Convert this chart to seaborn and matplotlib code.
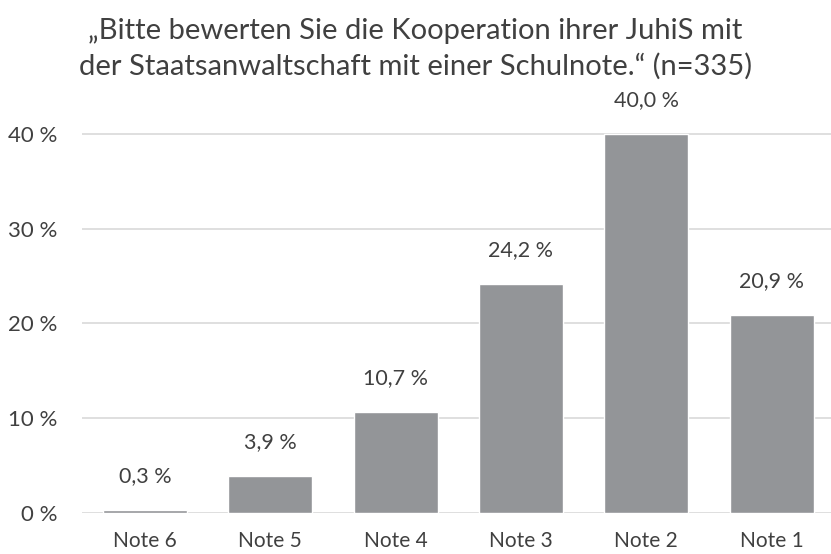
import matplotlib
matplotlib.use("Agg")
import matplotlib.pyplot as plt
import seaborn as sns
import pandas as pd

# Daten aus der Grafik
noten = ["Note 6", "Note 5", "Note 4", "Note 3", "Note 2", "Note 1"]
anteile = [0.3, 3.9, 10.7, 24.2, 40.0, 20.9]
y_ticks = [0, 10, 20, 30, 40]

df = pd.DataFrame({"note": noten, "anteil": anteile})

sns.set_style("white")
plt.rcParams["font.family"] = ["Lato", "DejaVu Sans"]
text_col = "#404040"

fig = plt.figure(figsize=(8.31, 5.54), dpi=100)
ax = fig.add_axes([0.099, 0.074, 0.905, 0.77])

sns.barplot(data=df, x="note", y="anteil", color="#939598", width=0.67,
            saturation=1, ax=ax, zorder=3)

ax.set_ylim(0, 45)
ax.set_yticks(y_ticks)
ax.set_yticklabels([f"{t} %" for t in y_ticks], fontsize=16, color=text_col)
ax.tick_params(axis="x", labelsize=15, colors=text_col, length=0, pad=13)
ax.tick_params(axis="y", length=0, pad=18)
ax.yaxis.grid(True, color="#d9d9d9", linewidth=1.2, zorder=0)
ax.set_xlabel("")
ax.set_ylabel("")
for s in ax.spines.values():
    s.set_visible(False)

# Werte über den Balken
for i, v in enumerate(anteile):
    ax.text(i, v + 2.5, f"{v:.1f} %".replace(".", ","), ha="center", va="bottom",
            fontsize=15.5, color=text_col)

fig.text(0.5, 0.912, "„Bitte bewerten Sie die Kooperation ihrer JuhiS mit\n"
         "der Staatsanwaltschaft mit einer Schulnote.“ (n=335)",
         ha="center", va="center", fontsize=21, color=text_col, linespacing=1.4)

plt.savefig("out.png", dpi=100)
